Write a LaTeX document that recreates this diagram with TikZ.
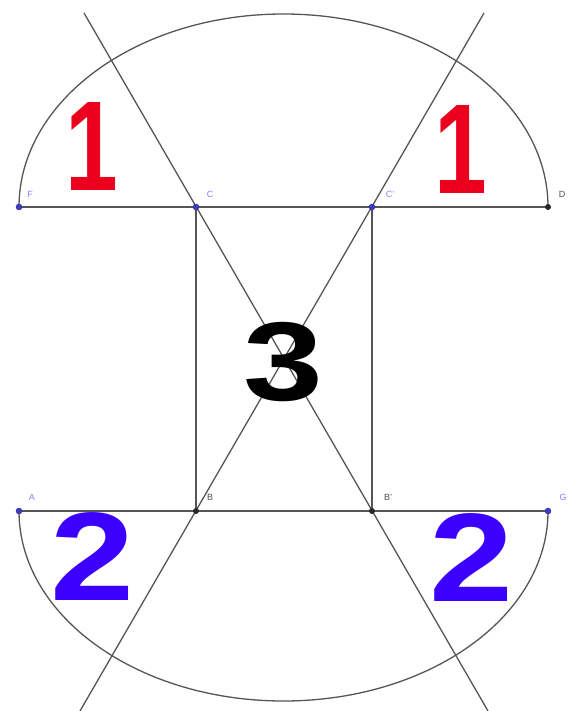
\documentclass[tikz,border=0pt]{standalone}
\usepackage{fontspec}
\setmainfont{Liberation Sans}
\usetikzlibrary{calc}
\definecolor{ptblue}{RGB}{60,60,200}
\definecolor{lblblue}{RGB}{130,130,255}
\definecolor{lngray}{RGB}{85,85,85}
\definecolor{numred}{RGB}{235,0,30}
\definecolor{numblue}{RGB}{60,0,255}
\tikzset{
  geo/.style={draw=lngray, line width=1.3pt},
  bluept/.style={circle, fill=ptblue, draw=ptblue!70!black, inner sep=0pt, minimum size=6pt},
  blackpt/.style={circle, fill=black!85, inner sep=0pt, minimum size=6pt},
  lblb/.style={text=lblblue, font=\fontsize{9}{9}\selectfont, inner sep=0pt},
  lblk/.style={text=black!70, font=\fontsize{9}{9}\selectfont, inner sep=0pt},
  bignum/.style={font=\fontsize{128}{128}\selectfont\bfseries, inner sep=0pt}
}
\begin{document}
\begin{tikzpicture}[x=1pt,y=-1pt]
\useasboundingbox (0,0) rectangle (569,711);
\coordinate (F) at (19,207);
\coordinate (C) at (196,207);
\coordinate (Cp) at (372,207);
\coordinate (D) at (548,207);
\coordinate (A) at (19,511);
\coordinate (B) at (196,511);
\coordinate (Bp) at (372,511);
\coordinate (G) at (548,511);
\coordinate (T1) at (84,13);
\coordinate (E1) at (488,711);
\coordinate (T2) at (484,13);
\coordinate (E2) at (80,711);
% arcs
\draw[geo] (F) arc[start angle=180,end angle=0,x radius=264.5pt,y radius=193pt];
\draw[geo] (A) arc[start angle=180,end angle=360,x radius=264.5pt,y radius=190pt];
% lines
\draw[geo] (F) -- (D);
\draw[geo] (A) -- (G);
\draw[geo] (C) -- (B);
\draw[geo] (Cp) -- (Bp);
\draw[geo] (T1) -- (E1);
\draw[geo] (T2) -- (E2);
% numbers
\node[bignum, text=numred] (n1a) at (92,146) {\scalebox{0.74}[1]{1}};
\node[bignum, text=numred] (n1b) at (461,149) {\scalebox{0.74}[1]{1}};
\node[bignum, text=black, font=\fontsize{112}{112}\selectfont\bfseries] (n3) at (283,362) {\scalebox{1.28}[1]{3}};
\node[bignum, text=numblue, font=\fontsize{126}{126}\selectfont\bfseries] (n2a) at (93,557) {\scalebox{1.2}[1]{2}};
\node[bignum, text=numblue, font=\fontsize{126}{126}\selectfont\bfseries] (n2b) at (472,558) {\scalebox{1.2}[1]{2}};
% points
\node[bluept] (pF) at (F) {};
\node[bluept] (pC) at (C) {};
\node[bluept] (pCp) at (Cp) {};
\node[blackpt] (pD) at (D) {};
\node[bluept] (pA) at (A) {};
\node[blackpt] (pB) at (B) {};
\node[blackpt] (pBp) at (Bp) {};
\node[bluept] (pG) at (G) {};
% labels
\node[lblb] (lF) at (30,194) {F};
\node[lblb] (lC) at (210,194) {C};
\node[lblb] (lCp) at (390,194) {C'};
\node[lblk] (lD) at (562,194) {D};
\node[lblb] (lA) at (32,497) {A};
\node[lblk] (lB) at (210,497) {B};
\node[lblk] (lBp) at (388,497) {B'};
\node[lblb] (lG) at (563,497) {G};
\end{tikzpicture}
\end{document}
